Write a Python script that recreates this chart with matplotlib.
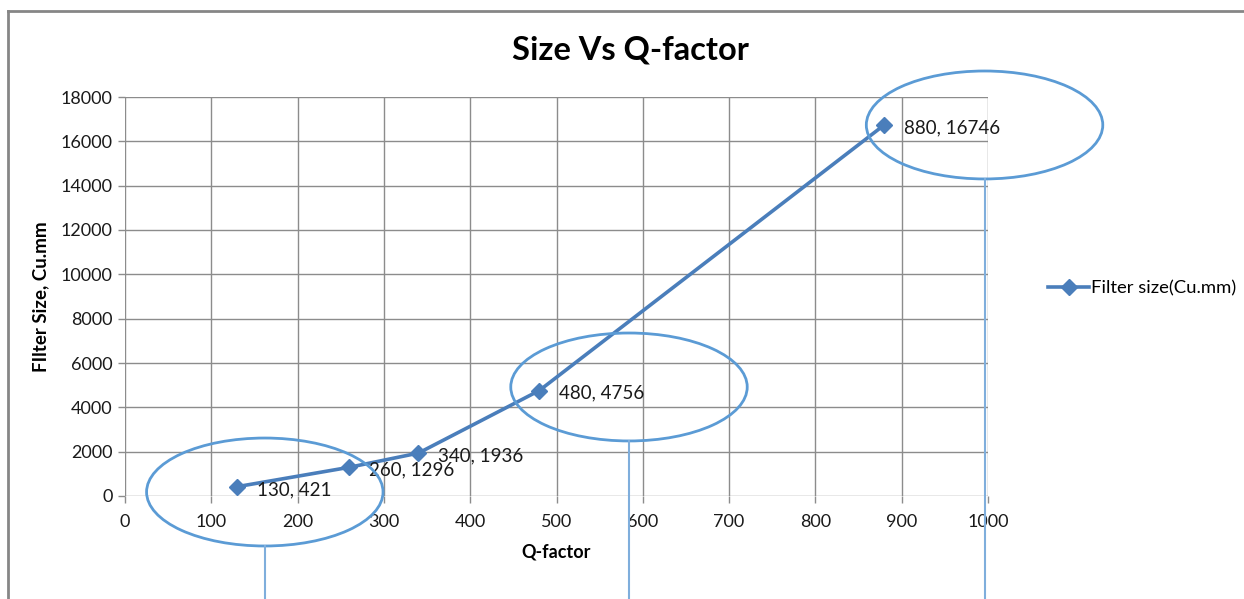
import matplotlib
matplotlib.use('Agg')
import matplotlib.pyplot as plt
from matplotlib.patches import Ellipse
from matplotlib.lines import Line2D

# data
q_factor = [130, 260, 340, 480, 880]
filter_size = [421, 1296, 1936, 4756, 16746]
series_name = 'Filter size(Cu.mm)'

# highlight ellipses (centre x, centre y in data units)
ell_x = [162, 584, 996]
ell_y = [180, 4918, 16738]
ell_w = 274
ell_h = 4870

plt.rcParams['font.family'] = ['Lato', 'DejaVu Sans']

fig = plt.figure(figsize=(12.44, 5.99), dpi=100)
ax = fig.add_axes([125 / 1244, 1 - 496 / 599, 863 / 1244, 399 / 599])

line_col = '#4A7EBB'
ax.plot(q_factor, filter_size, color=line_col, lw=2.6, marker='D', ms=8,
        mec=line_col, mfc=line_col, label=series_name, zorder=4)

for x, y in zip(q_factor, filter_size):
    ax.annotate(f'{x}, {y}', (x, y), xytext=(14, -2), textcoords='offset points',
                ha='left', va='center', fontsize=13.5, color='#1a1a1a', zorder=5)

ax.set_xlim(0, 1000)
ax.set_ylim(0, 18000)
ax.set_xticks(range(0, 1001, 100))
ax.set_yticks(range(0, 18001, 2000))
ax.grid(True, color='#8c8c8c', lw=1.0)
ax.set_axisbelow(True)
for s in ax.spines.values():
    s.set_visible(False)
ax.tick_params(axis='both', length=5, color='#8c8c8c', width=1.0,
               labelsize=13, labelcolor='#1a1a1a')
ax.tick_params(axis='x', pad=8)
ax.tick_params(axis='y', pad=4)

fig.text(630 / 1244, 1 - 50 / 599, 'Size Vs Q-factor', fontsize=23.5,
         fontweight='bold', ha='center', va='center')
ax.set_xlabel('Q-factor', fontsize=13, fontweight='bold', labelpad=10)
ax.set_ylabel('FIlter Size, Cu.mm', fontsize=13.5, fontweight='bold', labelpad=8)

leg = ax.legend(loc='center left', bbox_to_anchor=(1.057, 0.52), frameon=False,
                fontsize=13.3, handlelength=2.2, handletextpad=0.1,
                borderaxespad=0.2)

# callout ellipses with leader lines running down off the chart
ell_col = '#5B9BD5'
for cx, cy in zip(ell_x, ell_y):
    ax.add_patch(Ellipse((cx, cy), ell_w, ell_h, fill=False, ec=ell_col,
                         lw=2.0, clip_on=False, zorder=6))
    ax.add_line(Line2D([cx, cx], [cy - ell_h / 2, -6000], color='#7FAEDC',
                       lw=1.5, clip_on=False, zorder=6))

# chart frame (left and top edges)
fig.add_artist(Line2D([8 / 1244, 8 / 1244], [0, 1 - 11 / 599], color='#868686',
                      lw=2, transform=fig.transFigure))
fig.add_artist(Line2D([8 / 1244, 1], [1 - 11 / 599, 1 - 11 / 599], color='#868686',
                      lw=2, transform=fig.transFigure))

fig.savefig('out.png', dpi=100)
